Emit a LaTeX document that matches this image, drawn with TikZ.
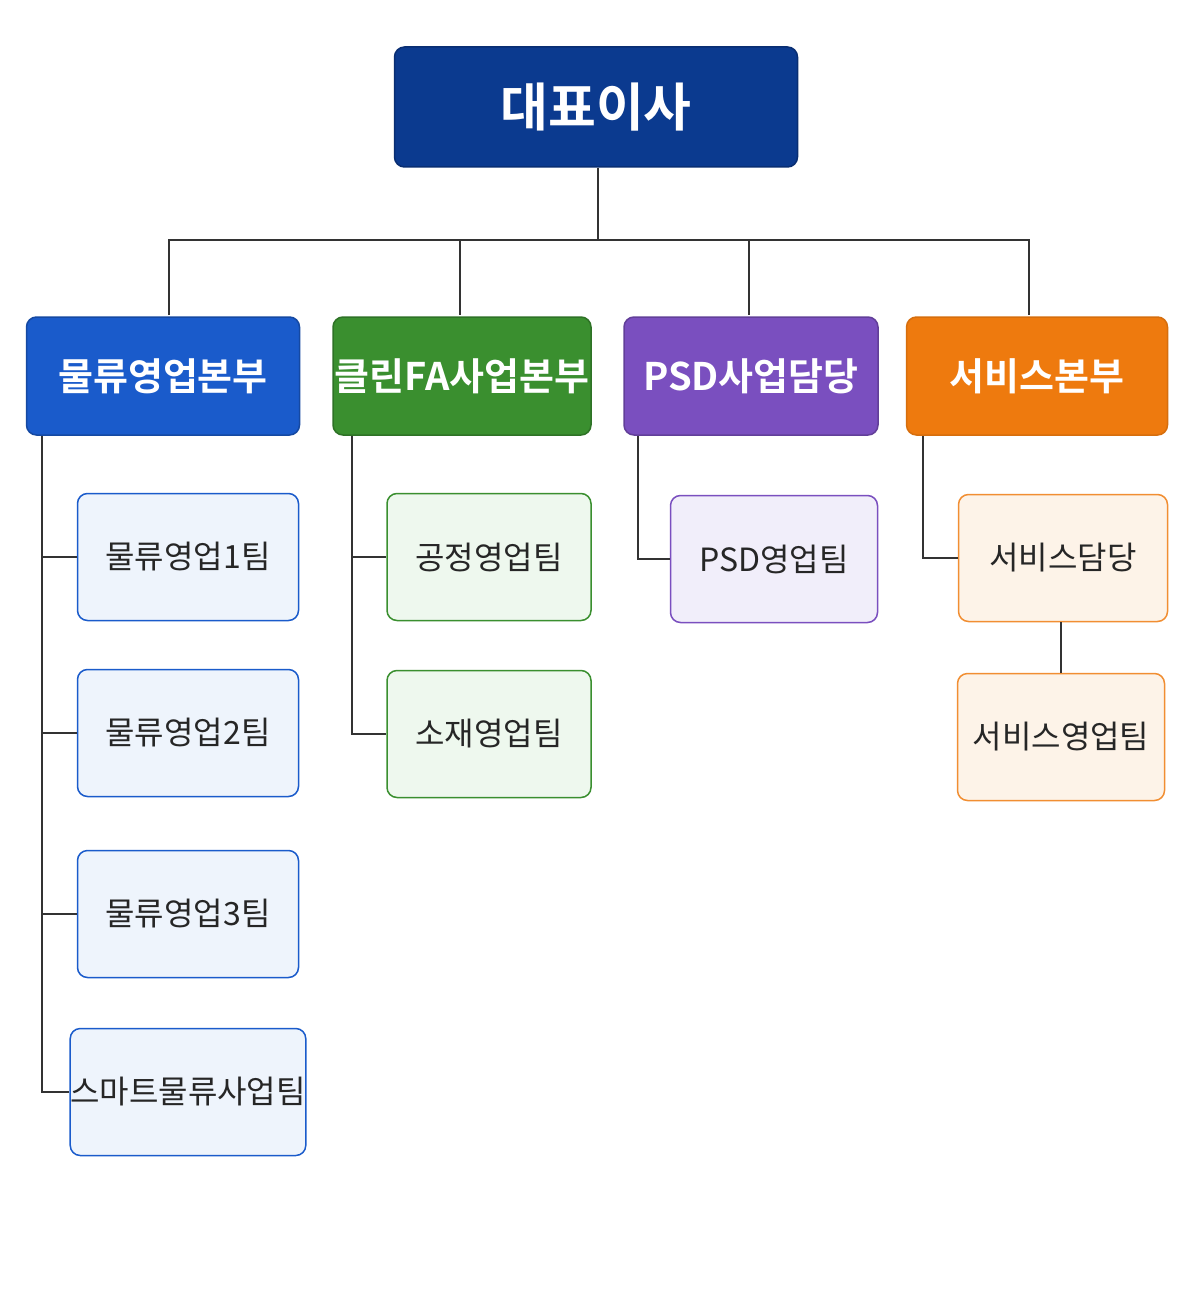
\documentclass[tikz,border=0pt]{standalone}
\usepackage{fontspec}
\newfontfamily\kr{Noto Sans CJK KR}
\newfontfamily\krb{Noto Sans CJK KR Bold}
\definecolor{ceo}{HTML}{0B3A8F}
\definecolor{cb}{HTML}{1A5BCB}\definecolor{cbl}{HTML}{EEF4FC}
\definecolor{cg}{HTML}{3A8F2F}\definecolor{cgl}{HTML}{EEF8EE}
\definecolor{cp}{HTML}{7A4FBF}\definecolor{cpl}{HTML}{F1EEFA}
\definecolor{co}{HTML}{EE7A0E}\definecolor{col}{HTML}{FDF3E8}
\begin{document}
\begin{tikzpicture}[x=1pt,y=-1pt,
 box/.style={draw,rounded corners=10pt,line width=1.5pt,inner sep=0pt,align=center},
 head/.style={box,text=white,font=\krb\fontsize{38}{40}\selectfont},
 team/.style={box,text=black!85,font=\kr\fontsize{32}{34}\selectfont,minimum height=127pt},
 ln/.style={line width=1.6pt,draw=black!80}]
\useasboundingbox[fill=white] (0,0) rectangle (1195,1316);
\node[head,fill=ceo,draw=ceo!80!black,minimum width=403pt,minimum height=120pt,font=\krb\fontsize{52}{54}\selectfont] (ceo) at (596,107) {대표이사};
\node[head,fill=cb,draw=cb!80!black,minimum width=273pt,minimum height=118pt] (h1) at (163,376) {물류영업본부};
\node[head,fill=cg,draw=cg!80!black,minimum width=258pt,minimum height=118pt] (h2) at (462,376) {클린FA사업본부};
\node[head,fill=cp,draw=cp!80!black,minimum width=254pt,minimum height=118pt] (h3) at (751,376) {PSD사업담당};
\node[head,fill=co,draw=co!90!black,minimum width=261pt,minimum height=118pt] (h4) at (1037,376) {서비스본부};
\node[team,fill=cbl,draw=cb,minimum width=221pt] (a1) at (188,557) {물류영업1팀};
\node[team,fill=cbl,draw=cb,minimum width=221pt] (a2) at (188,733) {물류영업2팀};
\node[team,fill=cbl,draw=cb,minimum width=221pt] (a3) at (188,914) {물류영업3팀};
\node[team,fill=cbl,draw=cb,minimum width=227pt] (a4) at (188,1092) {스마트물류사업팀};
\node[team,fill=cgl,draw=cg,minimum width=204pt] (b1) at (489,557) {공정영업팀};
\node[team,fill=cgl,draw=cg,minimum width=204pt] (b2) at (489,734) {소재영업팀};
\node[team,fill=cpl,draw=cp,minimum width=207pt] (c1) at (774,559) {PSD영업팀};
\node[team,fill=col,draw=co!85,minimum width=209pt] (d1) at (1063,558) {서비스담당};
\node[team,fill=col,draw=co!85,minimum width=207pt] (d2) at (1061,737) {서비스영업팀};
\coordinate (bus) at (598,240);
\draw[ln] (ceo.south -| bus) -- (bus);
\draw[ln] (169,315) -- (169,240) -- (1029,240) -- (1029,315);
\draw[ln] (460,240) -- (460,315);
\draw[ln] (749,240) -- (749,315);
\draw[ln] (42,436) |- (a4.west);
\foreach \n in {a1,a2,a3} \draw[ln] (42,0 |- \n.west) -- (\n.west);
\draw[ln] (352,436) |- (b2.west);
\draw[ln] (352,0 |- b1.west) -- (b1.west);
\draw[ln] (638,436) |- (c1.west);
\draw[ln] (923,436) |- (d1.west);
\draw[ln] (1061,0 |- d1.south) -- (d2.north);
\end{tikzpicture}
\end{document}
